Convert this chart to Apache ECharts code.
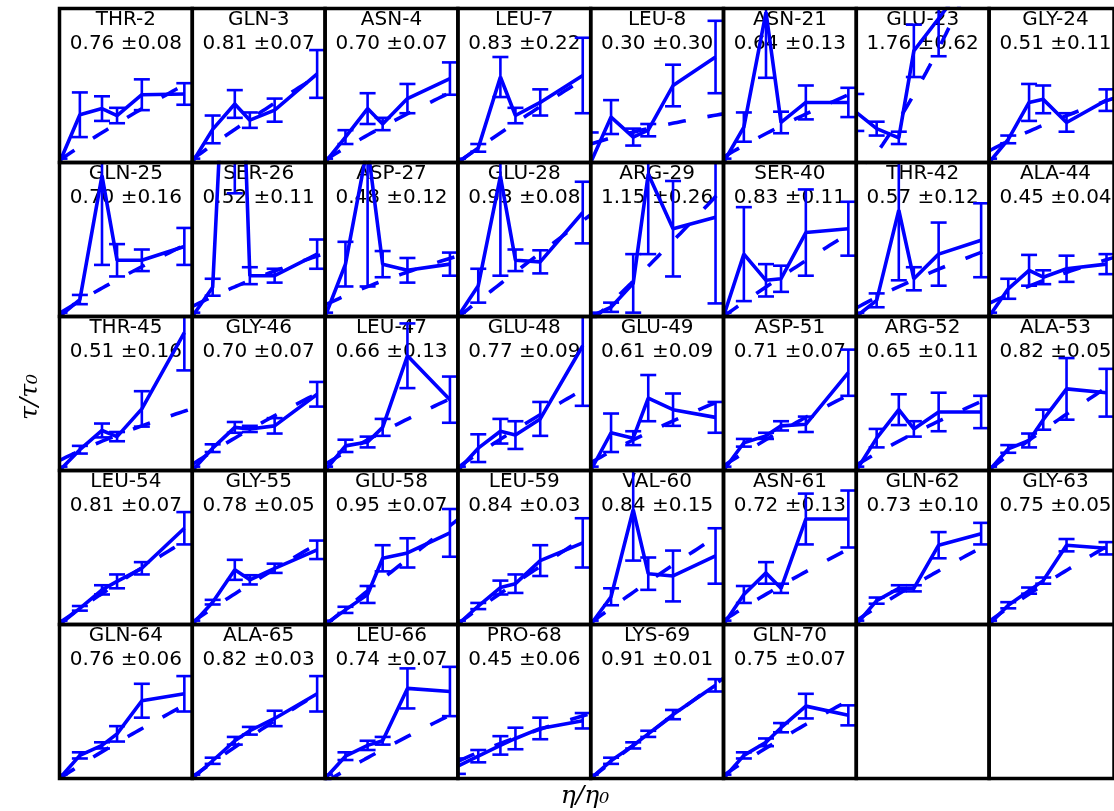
<!DOCTYPE html>
<html>
<head>
<meta charset="utf-8">
<script src="https://cdn.jsdelivr.net/npm/echarts@6/dist/echarts.min.js"></script>
<style>
  html, body { margin: 0; padding: 0; background: #fff; }
  #chart { width: 1114px; height: 811px; }
</style>
</head>
<body>
<div id="chart"></div>
<script>
// Residues, in panel order (row by row)
const residues = [
  'THR-2', 'GLN-3', 'ASN-4', 'LEU-7', 'LEU-8', 'ASN-21', 'GLU-23', 'GLY-24',
  'GLN-25', 'SER-26', 'ASP-27', 'GLU-28', 'ARG-29', 'SER-40', 'THR-42', 'ALA-44',
  'THR-45', 'GLY-46', 'LEU-47', 'GLU-48', 'GLU-49', 'ASP-51', 'ARG-52', 'ALA-53',
  'LEU-54', 'GLY-55', 'GLU-58', 'LEU-59', 'VAL-60', 'ASN-61', 'GLN-62', 'GLY-63',
  'GLN-64', 'ALA-65', 'LEU-66', 'PRO-68', 'LYS-69', 'GLN-70'
];

// Fitted power-law exponent and its uncertainty, tau/tau0 = A * (eta/eta0)^slope
const slope = [
  0.76, 0.81, 0.70, 0.83, 0.30, 0.64, 1.76, 0.51,
  0.70, 0.52, 0.48, 0.93, 1.15, 0.83, 0.57, 0.45,
  0.51, 0.70, 0.66, 0.77, 0.61, 0.71, 0.65, 0.82,
  0.81, 0.78, 0.95, 0.84, 0.84, 0.72, 0.73, 0.75,
  0.76, 0.82, 0.74, 0.45, 0.91, 0.75
];
const slopeErr = [
  0.08, 0.07, 0.07, 0.22, 0.30, 0.13, 0.62, 0.11,
  0.16, 0.11, 0.12, 0.08, 0.26, 0.11, 0.12, 0.04,
  0.16, 0.07, 0.13, 0.09, 0.09, 0.07, 0.11, 0.05,
  0.07, 0.05, 0.07, 0.03, 0.15, 0.13, 0.10, 0.05,
  0.06, 0.03, 0.07, 0.06, 0.01, 0.07
];
// Fitted prefactor A
const fitPrefactor = [
  1.03, 1.04, 1.03, 1.00, 1.24, 1.07, 0.78, 1.15,
  1.04, 1.13, 1.15, 0.99, 0.93, 1.00, 1.11, 1.17,
  1.13, 1.08, 1.08, 1.04, 1.10, 1.06, 1.07, 1.01,
  1.02, 1.03, 0.99, 1.01, 1.02, 1.05, 1.05, 1.04,
  1.00, 1.02, 0.95, 1.22, 1.00, 1.04
];

// Relative viscosity of the measured solutions (shared by all residues)
const etaRatio = [1.00, 1.23, 1.48, 1.65, 1.93, 2.41];

// Relative correlation time for each residue at each viscosity
const tauRatio = [
  [1.00, 1.62, 1.70, 1.61, 1.88, 1.89],
  [1.00, 1.43, 1.76, 1.55, 1.68, 2.15],
  [1.00, 1.33, 1.70, 1.50, 1.83, 2.09],
  [1.00, 1.19, 2.11, 1.61, 1.78, 2.13],
  [1.00, 1.59, 1.33, 1.42, 2.00, 2.37],
  [1.00, 1.46, 2.95, 1.52, 1.78, 1.78],
  [1.65, 1.44, 1.32, 2.45, 2.87, 3.60],
  [1.00, 1.30, 1.78, 1.82, 1.52, 1.81],
  [1.00, 1.22, 2.83, 1.73, 1.73, 1.91],
  [1.00, 1.38, 7.20, 1.53, 1.53, 1.81],
  [1.00, 1.68, 3.21, 1.68, 1.60, 1.68],
  [1.00, 1.40, 2.82, 1.73, 1.71, 2.35],
  [1.00, 1.12, 1.43, 2.85, 2.14, 2.29],
  [1.00, 1.81, 1.47, 1.49, 2.09, 2.14],
  [1.00, 1.21, 2.38, 1.49, 1.81, 1.99],
  [1.00, 1.36, 1.60, 1.51, 1.62, 1.68],
  [1.00, 1.27, 1.52, 1.44, 1.80, 2.79],
  [1.00, 1.29, 1.56, 1.54, 1.58, 1.99],
  [1.00, 1.32, 1.37, 1.56, 2.49, 1.92],
  [1.00, 1.29, 1.51, 1.46, 1.67, 2.62],
  [1.00, 1.49, 1.42, 1.94, 1.79, 1.69],
  [1.00, 1.36, 1.45, 1.58, 1.60, 2.27],
  [1.00, 1.42, 1.79, 1.54, 1.76, 1.76],
  [1.00, 1.28, 1.39, 1.66, 2.06, 2.01],
  [1.00, 1.21, 1.45, 1.56, 1.73, 2.25],
  [1.00, 1.29, 1.71, 1.58, 1.73, 1.97],
  [1.00, 1.19, 1.39, 1.86, 1.93, 2.19],
  [1.00, 1.24, 1.48, 1.53, 1.83, 2.06],
  [1.00, 1.36, 2.49, 1.66, 1.63, 1.89],
  [1.00, 1.39, 1.67, 1.47, 2.37, 2.37],
  [1.00, 1.31, 1.47, 1.47, 2.03, 2.18],
  [1.00, 1.25, 1.44, 1.57, 2.03, 1.99],
  [1.00, 1.30, 1.43, 1.58, 2.01, 2.10],
  [1.00, 1.23, 1.49, 1.62, 1.78, 2.10],
  [1.00, 1.29, 1.43, 1.49, 2.17, 2.13],
  [1.16, 1.29, 1.43, 1.52, 1.65, 1.75],
  [1.00, 1.23, 1.43, 1.58, 1.83, 2.21],
  [1.00, 1.30, 1.47, 1.66, 1.94, 1.82]
];
const tauErr = [
  [0.05, 0.29, 0.16, 0.10, 0.20, 0.14],
  [0.05, 0.18, 0.18, 0.10, 0.15, 0.31],
  [0.05, 0.09, 0.20, 0.08, 0.19, 0.21],
  [0.05, 0.05, 0.26, 0.10, 0.17, 0.49],
  [0.39, 0.22, 0.11, 0.08, 0.27, 0.47],
  [0.05, 0.19, 0.85, 0.14, 0.22, 0.19],
  [0.24, 0.09, 0.08, 0.34, 0.49, 0.40],
  [0.05, 0.05, 0.24, 0.18, 0.12, 0.14],
  [0.05, 0.06, 1.16, 0.21, 0.14, 0.24],
  [0.05, 0.11, 4.60, 0.11, 0.09, 0.19],
  [0.05, 0.29, 1.82, 0.17, 0.16, 0.15],
  [0.05, 0.22, 1.29, 0.14, 0.15, 0.40],
  [0.05, 0.06, 0.38, 1.04, 0.62, 1.12],
  [0.05, 0.61, 0.21, 0.17, 0.56, 0.35],
  [0.05, 0.09, 0.91, 0.15, 0.41, 0.48],
  [0.05, 0.13, 0.20, 0.09, 0.17, 0.13],
  [0.05, 0.05, 0.09, 0.06, 0.23, 0.49],
  [0.05, 0.05, 0.07, 0.04, 0.10, 0.16],
  [0.05, 0.08, 0.07, 0.11, 0.42, 0.30],
  [0.05, 0.18, 0.16, 0.18, 0.22, 0.78],
  [0.05, 0.25, 0.09, 0.30, 0.21, 0.20],
  [0.05, 0.05, 0.04, 0.06, 0.10, 0.30],
  [0.05, 0.12, 0.20, 0.10, 0.25, 0.21],
  [0.05, 0.05, 0.09, 0.13, 0.40, 0.31],
  [0.05, 0.03, 0.06, 0.09, 0.08, 0.21],
  [0.05, 0.03, 0.13, 0.06, 0.06, 0.12],
  [0.05, 0.04, 0.11, 0.17, 0.19, 0.31],
  [0.05, 0.04, 0.09, 0.12, 0.20, 0.32],
  [0.05, 0.11, 0.66, 0.21, 0.33, 0.36],
  [0.05, 0.11, 0.14, 0.06, 0.33, 0.37],
  [0.05, 0.04, 0.04, 0.04, 0.17, 0.14],
  [0.05, 0.04, 0.04, 0.04, 0.08, 0.08],
  [0.05, 0.04, 0.04, 0.10, 0.22, 0.23],
  [0.05, 0.04, 0.05, 0.05, 0.10, 0.23],
  [0.05, 0.05, 0.06, 0.05, 0.26, 0.32],
  [0.10, 0.08, 0.12, 0.14, 0.14, 0.10],
  [0.05, 0.04, 0.04, 0.04, 0.06, 0.08],
  [0.05, 0.04, 0.05, 0.06, 0.16, 0.13]
];

// Shared axis ranges of every panel
const ETA_RANGE = [1, 2.5];
const TAU_RANGE = [1, 3];

// Panel layout (pixels)
const COLS = 8, ROWS = 5;
const LEFT = 59.5, TOP = 8.5, CELL_W = 132.8, CELL_H = 154;
const BLUE = '#0000ff';

const chart = echarts.init(document.getElementById('chart'), null, { renderer: 'canvas' });

const grids = [], xAxes = [], yAxes = [], series = [], graphics = [];

// vertical bar with caps, cut to the panel rectangle
function errorBarItem(params, api) {
  const x = api.value(0), y = api.value(1), e = api.value(2);
  const c = api.coord([x, y]);
  const hi = api.coord([x, y + e]);
  const lo = api.coord([x, y - e]);
  const cs = params.coordSys;
  const top = cs.y, bot = cs.y + cs.height, left = cs.x, right = cs.x + cs.width;
  const cap = 8;
  const style = { stroke: BLUE, lineWidth: 2.6, fill: null };
  const children = [];
  const y1 = Math.max(hi[1], top), y2 = Math.min(lo[1], bot);
  if (y2 > y1) {
    children.push({ type: 'line', shape: { x1: c[0], y1: y1, x2: c[0], y2: y2 }, style: style });
  }
  [hi[1], lo[1]].forEach(function (cy) {
    if (cy >= top && cy <= bot) {
      children.push({
        type: 'line',
        shape: { x1: Math.max(left, c[0] - cap), y1: cy, x2: Math.min(right, c[0] + cap), y2: cy },
        style: style
      });
    }
  });
  return { type: 'group', children: children };
}

for (let k = 0; k < COLS * ROWS; k++) {
  const col = k % COLS, row = Math.floor(k / COLS);
  const gx = LEFT + col * CELL_W, gy = TOP + row * CELL_H;
  grids.push({
    left: gx, top: gy, width: CELL_W, height: CELL_H,
    show: true, borderColor: '#000', borderWidth: 3.5,
    backgroundColor: 'transparent', z: 10
  });
  xAxes.push({ gridIndex: k, type: 'value', min: ETA_RANGE[0], max: ETA_RANGE[1], show: false });
  yAxes.push({ gridIndex: k, type: 'value', min: TAU_RANGE[0], max: TAU_RANGE[1], show: false });

  if (k >= residues.length) continue;

  // power-law fit curve
  const A = fitPrefactor[k], a = slope[k];
  const fit = [];
  const n = 40;
  for (let j = 0; j <= n; j++) {
    const eta = ETA_RANGE[0] + (ETA_RANGE[1] - ETA_RANGE[0]) * j / n;
    fit.push([eta, A * Math.pow(eta, a)]);
  }
  series.push({
    type: 'line', xAxisIndex: k, yAxisIndex: k, data: fit,
    showSymbol: false, silent: true, clip: true, z: 2,
    lineStyle: { color: BLUE, width: 3.6, type: [18, 22] }
  });

  // measured values
  series.push({
    type: 'line', xAxisIndex: k, yAxisIndex: k,
    data: etaRatio.map((e, j) => [e, tauRatio[k][j]]),
    showSymbol: false, silent: true, clip: true, z: 3,
    lineStyle: { color: BLUE, width: 3.6 }
  });

  // error bars
  series.push({
    type: 'custom', xAxisIndex: k, yAxisIndex: k,
    data: etaRatio.map((e, j) => [e, tauRatio[k][j], tauErr[k][j]]),
    renderItem: errorBarItem, silent: true, z: 3
  });

  // residue name and fitted exponent
  const cx = gx + CELL_W / 2;
  graphics.push({
    type: 'text', x: cx, y: gy + 11.5, z: 0,
    style: { text: residues[k], font: '20px "DejaVu Sans"', fill: '#000', textAlign: 'center', textVerticalAlign: 'middle' }
  });
  graphics.push({
    type: 'text', x: cx, y: gy + 35, z: 0,
    style: {
      text: slope[k].toFixed(2) + ' \u00b1' + slopeErr[k].toFixed(2),
      font: '20px "DejaVu Sans"', fill: '#000', textAlign: 'center', textVerticalAlign: 'middle'
    }
  });
}

// shared axis titles
graphics.push({
  type: 'text', x: 30, y: 397, rotation: Math.PI / 2, z: 0,
  style: { text: '\u03c4/\u03c4\u2080', font: 'italic 25px "DejaVu Serif"', fill: '#000', textAlign: 'center', textVerticalAlign: 'middle' }
});
graphics.push({
  type: 'text', x: 585, y: 796, z: 0,
  style: { text: '\u03b7/\u03b7\u2080', font: 'italic 25px "DejaVu Serif"', fill: '#000', textAlign: 'center', textVerticalAlign: 'middle' }
});

chart.setOption({
  animation: false,
  backgroundColor: '#fff',
  grid: grids,
  xAxis: xAxes,
  yAxis: yAxes,
  series: series,
  graphic: { elements: graphics }
});
</script>
</body>
</html>
